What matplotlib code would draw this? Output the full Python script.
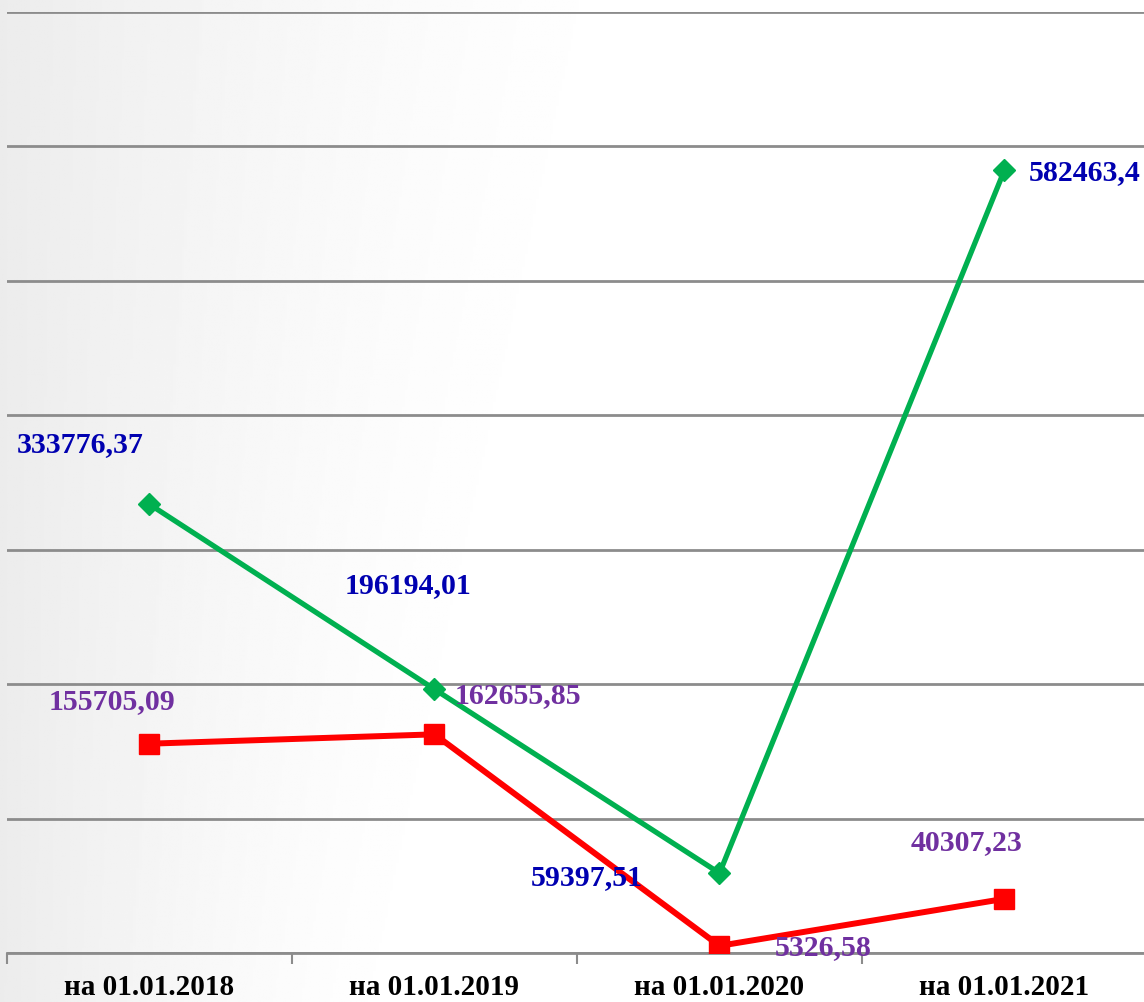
import matplotlib
matplotlib.use("Agg")
import matplotlib.pyplot as plt
import numpy as np

# data
categories = ["на 01.01.2018", "на 01.01.2019", "на 01.01.2020", "на 01.01.2021"]
green_values = [333776.37, 196194.01, 59397.51, 582463.4]
red_values = [155705.09, 162655.85, 5326.58, 40307.23]
green_labels = ["333776,37", "196194,01", "59397,51", "582463,4"]
red_labels = ["155705,09", "162655,85", "5326,58", "40307,23"]

# label offsets in pixels (dx, dy) from each point
green_offsets = [(-69, 60), (-26, 104), (-133, -4), (80, -3)]
red_offsets = [(-37, 42), (83, 39), (104, -2), (-38, 56)]

plt.rcParams['font.family'] = ['Liberation Serif', 'DejaVu Serif']

W, H = 1144, 1002
fig = plt.figure(figsize=(W / 100, H / 100), dpi=100)

# soft grey gradient background (darker at the left, reaching further at the top)
bg = fig.add_axes([0, 0, 1, 1])
xx, yy = np.meshgrid(np.linspace(0, 1, 400), np.linspace(0, 1, 400))
reach = 0.6 - 0.22 * yy
shade = np.clip(1 - xx / reach, 0, 1) ** 1.6
grad = 1.0 - 0.075 * shade
bg.imshow(grad, cmap="gray", vmin=0, vmax=1, aspect="auto", extent=[0, 1, 0, 1], origin="upper")
bg.set_axis_off()

ax = fig.add_axes([7 / W, (H - 953) / H, 1140 / W, (953 - 12) / H])
ax.patch.set_alpha(0)

x = np.arange(len(categories))
ax.plot(x, green_values, color="#00B050", lw=3.8, marker="D", ms=11,
        markerfacecolor="#00B050", markeredgecolor="#00B050", zorder=4)
ax.plot(x, red_values, color="#FF0000", lw=4.3, marker="s", ms=15,
        markerfacecolor="#FF0000", markeredgecolor="#FF0000", zorder=3)

for xi, v, lab, (dx, dy) in zip(x, green_values, green_labels, green_offsets):
    ax.annotate(lab, (xi, v), xytext=(dx, dy), textcoords="offset pixels",
                ha="center", va="center", fontsize=21.5, fontweight="bold",
                color="#0000B0", zorder=6)
for xi, v, lab, (dx, dy) in zip(x, red_values, red_labels, red_offsets):
    ax.annotate(lab, (xi, v), xytext=(dx, dy), textcoords="offset pixels",
                ha="center", va="center", fontsize=21.5, fontweight="bold",
                color="#7030A0", zorder=6)

ax.set_xlim(-0.5, len(categories) - 0.5)
ax.set_ylim(0, 700000)
ax.set_yticks(np.arange(0, 700001, 100000))
ax.yaxis.grid(True, color="#8c8c8c", lw=2)
ax.set_axisbelow(True)
ax.tick_params(axis="y", left=False, labelleft=False)

ax.set_xticks(x)
ax.set_xticklabels(categories, fontsize=21, fontweight="bold", color="black")
ax.set_xticks(np.arange(-0.5, len(categories), 1), minor=True)
ax.tick_params(axis="x", which="major", length=0, pad=15)
ax.tick_params(axis="x", which="minor", length=8, width=1.5, color="#8c8c8c", direction="out")

for s in ["top", "right", "left"]:
    ax.spines[s].set_visible(False)
ax.spines["bottom"].set_color("#8c8c8c")
ax.spines["bottom"].set_linewidth(2)

fig.savefig("out.png", dpi=100)
